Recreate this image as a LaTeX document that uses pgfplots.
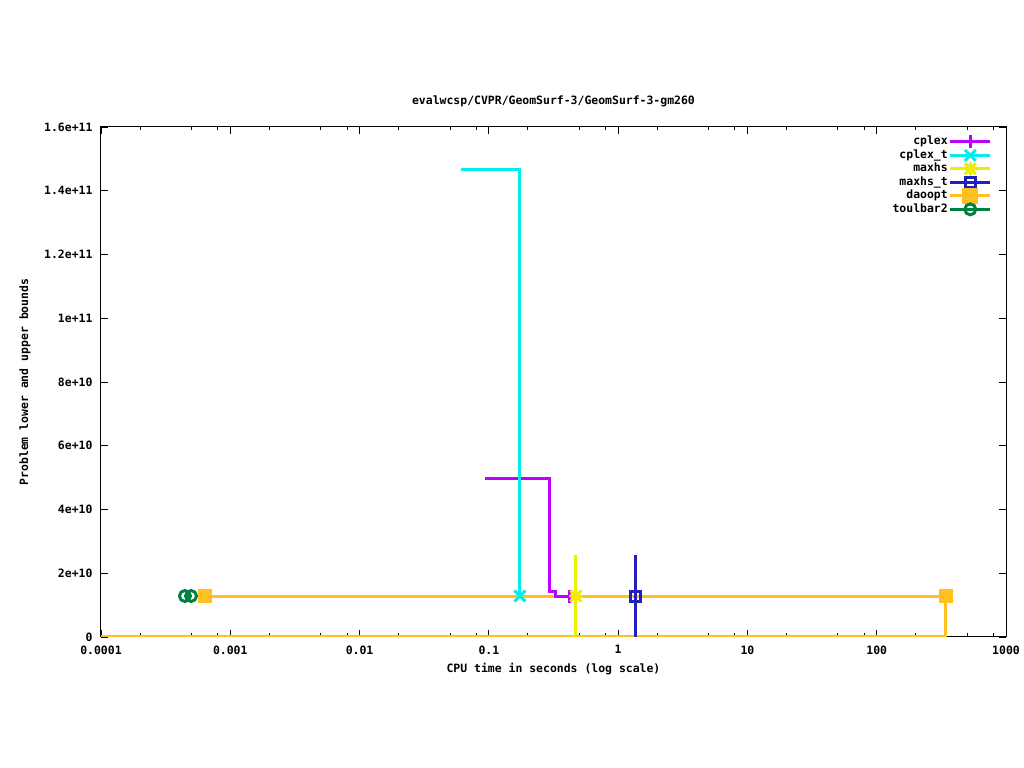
\documentclass[border=0pt]{standalone}
\usepackage{fontspec}
\setmainfont{DejaVu Sans Mono}
\setmonofont{DejaVu Sans Mono}
\usepackage{pgfplots}
\pgfplotsset{compat=1.18}
\definecolor{cpx}{HTML}{C000FF}
\definecolor{cpt}{HTML}{00EEEE}
\definecolor{mhs}{HTML}{EEEE00}
\definecolor{mht}{HTML}{2020C0}
\definecolor{dao}{HTML}{FFC020}
\definecolor{tb2}{HTML}{008040}
\pgfdeclareplotmark{xplus}{%
  \pgfpathmoveto{\pgfqpoint{-\pgfplotmarksize}{0pt}}%
  \pgfpathlineto{\pgfqpoint{\pgfplotmarksize}{0pt}}%
  \pgfpathmoveto{\pgfqpoint{0pt}{-\pgfplotmarksize}}%
  \pgfpathlineto{\pgfqpoint{0pt}{\pgfplotmarksize}}%
  \pgfpathmoveto{\pgfqpoint{-0.85\pgfplotmarksize}{-0.85\pgfplotmarksize}}%
  \pgfpathlineto{\pgfqpoint{0.85\pgfplotmarksize}{0.85\pgfplotmarksize}}%
  \pgfpathmoveto{\pgfqpoint{-0.85\pgfplotmarksize}{0.85\pgfplotmarksize}}%
  \pgfpathlineto{\pgfqpoint{0.85\pgfplotmarksize}{-0.85\pgfplotmarksize}}%
  \pgfusepathqstroke}
\pgfdeclareplotmark{bigx}{%
  \pgfpathmoveto{\pgfqpoint{-\pgfplotmarksize}{-\pgfplotmarksize}}%
  \pgfpathlineto{\pgfqpoint{\pgfplotmarksize}{\pgfplotmarksize}}%
  \pgfpathmoveto{\pgfqpoint{-\pgfplotmarksize}{\pgfplotmarksize}}%
  \pgfpathlineto{\pgfqpoint{\pgfplotmarksize}{-\pgfplotmarksize}}%
  \pgfusepathqstroke}
\begin{document}
\begin{tikzpicture}[font=\bfseries\fontsize{11.5}{13}\selectfont]
\useasboundingbox (0,0) rectangle (1024bp,768bp);
\begin{axis}[
  at={(101bp,131bp)}, anchor=south west,
  scale only axis, width=905bp, height=510bp,
  xmode=log, xmin=1e-4, xmax=1000,
  ymin=0, ymax=1.6e11,
  axis line style={line width=1bp},
  major tick length=7bp, minor tick length=3.5bp,
  every tick/.style={black, line width=0.8bp},
  xtick={1e-4,1e-3,1e-2,1e-1,1,10,100,1000},
  xticklabels={0.0001,0.001,0.01,0.1,1,10,100,1000},
  minor xtick={2e-4,5e-4,8e-4,2e-3,5e-3,8e-3,2e-2,5e-2,8e-2,0.2,0.5,0.8,2,5,8,20,50,80,200,500,800},
  ytick={0,2e10,4e10,6e10,8e10,1e11,1.2e11,1.4e11,1.6e11},
  yticklabels={0,2e+10,4e+10,6e+10,8e+10,1e+11,1.2e+11,1.4e+11,1.6e+11},
  scaled y ticks=false,
  xticklabel style={yshift=-5bp},
  yticklabel style={xshift=-5bp},
  title={evalwcsp/CVPR/GeomSurf-3/GeomSurf-3-gm260},
  title style={at={(axis description cs:0.5,1.039)}, anchor=center},
  xlabel={CPU time in seconds (log scale)},
  xlabel style={at={(axis description cs:0.5,-0.0627)}, anchor=center},
  ylabel={Problem lower and upper bounds},
  ylabel style={at={(axis description cs:-0.084,0.5)}, anchor=center},
  legend plot pos=right,
  legend cell align=right,
  legend style={draw=none, fill=none, at={(axis description cs:0.9845,0.984)}, anchor=north east,
    inner sep=0pt, row sep=1bp, nodes={inner sep=1bp, text height=8bp, text depth=2bp}},
  legend image code/.code={\draw[mark repeat=2,mark phase=2] plot coordinates {(0bp,0bp)(20bp,0bp)(40bp,0bp)};},
  clip=true,
]
% daoopt (drawn first)
\addplot[dao, line width=3bp, forget plot] coordinates {(0.000637,1.286e10)(343,1.286e10)(343,0)(0.0001,0)};
% cplex
\addplot[cpx, line width=3bp, forget plot] coordinates {(0.093,4.96e10)(0.296,4.96e10)(0.296,1.44e10)(0.33,1.44e10)(0.33,1.286e10)(0.424,1.286e10)};
\addplot[cpx, line width=3bp, only marks, mark=+, mark size=6.5bp, forget plot] coordinates {(0.424,1.286e10)};
% cplex_t
\addplot[cpt, line width=3bp, forget plot] coordinates {(0.0608,1.468e11)(0.174,1.468e11)(0.174,1.286e10)};
\addplot[cpt, line width=3bp, only marks, mark=bigx, mark size=5.5bp, forget plot] coordinates {(0.174,1.286e10)};
% maxhs
\addplot[mhs, line width=3bp, forget plot] coordinates {(0.472,2.57e10)(0.472,0)};
\addplot[mhs, line width=3bp, only marks, mark=xplus, mark size=6.5bp, forget plot] coordinates {(0.472,1.286e10)};
% maxhs_t
\addplot[mht, line width=3bp, forget plot] coordinates {(1.37,2.57e10)(1.37,0)};
\addplot[mht, line width=3bp, only marks, mark=square, mark size=5bp, forget plot] coordinates {(1.37,1.286e10)};
% daoopt markers
\addplot[dao, only marks, mark=square*, mark size=6.5bp, forget plot] coordinates {(0.000637,1.286e10)(343,1.286e10)};
% toulbar2
\addplot[tb2, line width=3bp, mark=o, mark size=5.5bp, forget plot] coordinates {(0.000446,1.286e10)(0.000497,1.286e10)};

\addlegendimage{cpx, line width=3bp, mark=+, mark size=6.5bp}
\addlegendentry{cplex}
\addlegendimage{cpt, line width=3bp, mark=bigx, mark size=5.5bp}
\addlegendentry{cplex\_t}
\addlegendimage{mhs, line width=3bp, mark=xplus, mark size=6.5bp}
\addlegendentry{maxhs}
\addlegendimage{mht, line width=3bp, mark=square, mark size=5bp}
\addlegendentry{maxhs\_t}
\addlegendimage{dao, line width=3bp, mark=square*, mark size=6.5bp}
\addlegendentry{daoopt}
\addlegendimage{tb2, line width=3bp, mark=o, mark size=5.5bp}
\addlegendentry{toulbar2}
\end{axis}
\end{tikzpicture}
\end{document}
